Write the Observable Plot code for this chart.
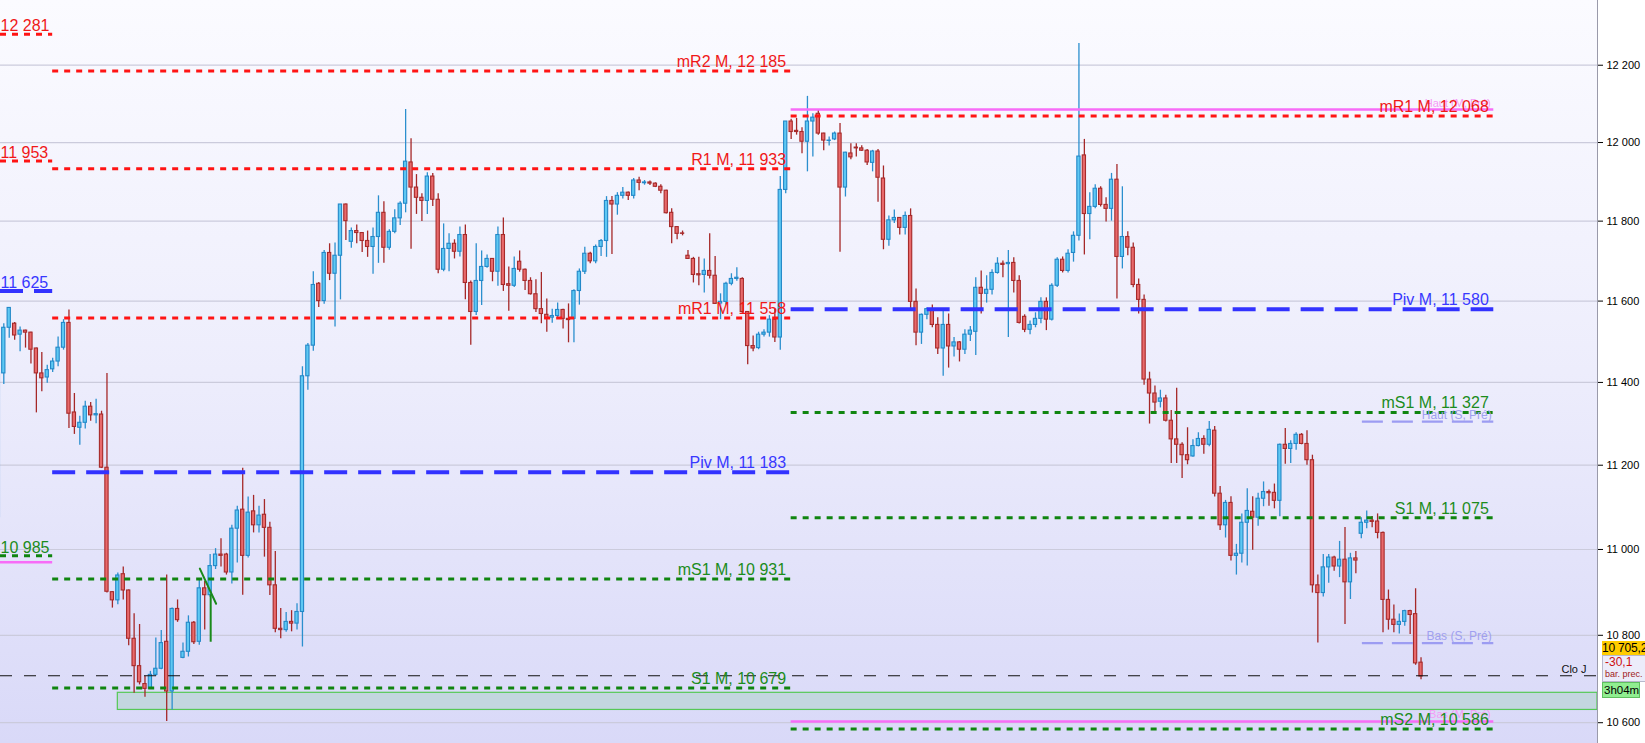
<!DOCTYPE html>
<html>
<head>
<meta charset="utf-8">
<script src="https://cdn.jsdelivr.net/npm/d3@7"></script>
<script src="https://cdn.jsdelivr.net/npm/@observablehq/plot@0.6"></script>
<style>
  body { margin: 0; background: #fff; font-family: "Liberation Sans", Arial, sans-serif; }
  #wrap { position: relative; width: 1645px; height: 743px; overflow: hidden; }
  #bg { position: absolute; left: 0; top: 0; width: 1597px; height: 743px;
        background: linear-gradient(to bottom, #fbfbff 0%, #ededfc 50%, #d9d9f8 100%); }
  #chart { position: absolute; left: 0; top: 0; }
  .box { position: absolute; left: 1602px; white-space: nowrap; overflow: hidden; box-sizing: border-box; font-size: 12px; }
  .last { top: 641px; width: 44px; height: 14px; line-height: 14px; background: #ffcc00; color: #000; padding-left: 0; letter-spacing: -0.2px; }
  .prev { top: 655px; width: 44px; height: 27px; background: #ececfa; border: 1px solid #b8b8cc; padding-left: 2px; }
  .chg { color: #cc1010; font-size: 12px; line-height: 13px; }
  .bp { color: #a02020; font-size: 9px; line-height: 11px; }
  .timer { top: 682px; width: 38px; height: 16px; line-height: 15px; background: #90ee90; border: 1px solid #5fbf5f; padding-left: 1px; color: #000; font-size: 11.5px; }
</style>
</head>
<body>
<div id="wrap">
  <div id="bg"></div>
  <div id="chart"></div>
  <div class="box last">10 705,2</div>
  <div class="box prev"><div class="chg">-30,1</div><div class="bp">bar. prec.</div></div>
  <div class="box timer">3h04m</div>
</div>
<script>
// bougies (OHLC), une valeur par barre, de gauche à droite
const opens = [
  11076,
  11422, 11534, 11544, 11517, 11527, 11522, 11483, 11422, 11412, 11432,
  11451, 11485, 11546, 11327, 11290, 11302, 11341, 11320, 11322, 11194,
  10900, 10881, 10942, 10904, 10792, 10729, 10688, 10677, 10709, 10723,
  10785, 10671, 10861, 10748, 10762, 10829, 10785, 10909, 10893, 10961,
  10988, 10988, 10946, 11049, 11094, 10985, 11090, 11057, 11082, 11051,
  10916, 10815, 10812, 10831, 10827, 10854, 11415, 11490, 11643, 11600,
  11720, 11668, 11713, 11842, 11748, 11775, 11770, 11750, 11735, 11760,
  11821, 11733, 11773, 11807, 11844, 11949, 11885, 11859, 11851, 11913,
  11854, 11678, 11730, 11743, 11723, 11765, 11645, 11573, 11650, 11685,
  11705, 11673, 11765, 11642, 11638, 11698, 11678, 11650, 11617, 11580,
  11566, 11559, 11563, 11578, 11556, 11556, 11625, 11673, 11718, 11699,
  11735, 11750, 11851, 11842, 11864, 11872, 11864, 11903, 11896, 11898,
  11895, 11887, 11877, 11821, 11785, 11769, 11713, 11705, 11667, 11665,
  11675, 11663, 11594, 11598, 11643, 11655, 11655, 11573, 11489, 11484,
  11517, 11522, 11554, 11510, 11879, 12054, 12030, 12027, 12002, 12054,
  12074, 12023, 12004, 12008, 12023, 11885, 11972, 11987, 11985, 11979,
  11948, 11977, 11908, 11753, 11802, 11808, 11783, 11813, 11598, 11522,
  11566, 11580, 11541, 11483, 11541, 11488, 11498, 11480, 11517, 11524,
  11633, 11618, 11628, 11670, 11693, 11692, 11695, 11650, 11561, 11529,
  11541, 11556, 11598, 11554, 11638, 11703, 11675, 11720, 11763, 11967,
  11818, 11836, 11882, 11841, 11831, 11905, 11710, 11760, 11733, 11640,
  11603, 11407, 11373, 11353, 11361, 11307, 11262, 11249, 11224, 11221,
  11246, 11263, 11249, 11283, 11132, 11057, 11110, 10985, 10990, 11063,
  11089, 11075, 11120, 11136, 11134, 11115, 11249, 11239, 11251, 11273,
  11251, 11212, 10916, 10898, 10958, 10981, 10960, 10976, 10923, 10979,
  11037, 11063, 11068, 11066, 11039, 10882, 10836, 10824, 10831, 10856,
  10849, 10737
];
const highs = [
  11423,
  11544, 11583, 11547, 11536, 11528, 11523, 11484, 11473, 11442, 11459,
  11511, 11554, 11578, 11373, 11318, 11354, 11351, 11359, 11330, 11422,
  10901, 10945, 10959, 10905, 10850, 10825, 10706, 10717, 10794, 10811,
  10940, 10863, 10882, 10782, 10845, 10832, 10932, 10925, 10988, 11002,
  11025, 10991, 11057, 11102, 11193, 11124, 11128, 11102, 11118, 11064,
  10995, 10862, 10853, 10857, 10873, 11438, 11495, 11673, 11646, 11726,
  11743, 11745, 11842, 11843, 11783, 11790, 11771, 11775, 11783, 11864,
  11849, 11778, 11829, 11849, 12085, 12010, 11918, 11869, 11923, 11921,
  11869, 11793, 11768, 11753, 11785, 11790, 11650, 11743, 11725, 11715,
  11706, 11785, 11808, 11685, 11710, 11725, 11680, 11658, 11653, 11671,
  11605, 11580, 11595, 11580, 11593, 11628, 11680, 11734, 11722, 11740,
  11754, 11862, 11862, 11872, 11885, 11874, 11908, 11911, 11903, 11902,
  11897, 11892, 11878, 11831, 11786, 11775, 11726, 11709, 11709, 11705,
  11768, 11711, 11618, 11647, 11668, 11683, 11658, 11574, 11514, 11523,
  11529, 11564, 11580, 11913, 12054, 12060, 12062, 12038, 12119, 12074,
  12083, 12024, 12014, 12027, 12049, 11975, 11997, 11997, 11992, 11982,
  11980, 11982, 11940, 11813, 11828, 11809, 11823, 11831, 11630, 11568,
  11583, 11590, 11559, 11578, 11568, 11510, 11500, 11529, 11537, 11658,
  11675, 11663, 11678, 11708, 11700, 11726, 11708, 11663, 11566, 11551,
  11571, 11608, 11608, 11643, 11708, 11710, 11728, 11773, 12257, 12008,
  11872, 11892, 11887, 11859, 11921, 11944, 11887, 11773, 11745, 11655,
  11615, 11425, 11391, 11381, 11369, 11332, 11386, 11254, 11290, 11261,
  11278, 11271, 11305, 11293, 11149, 11116, 11125, 11012, 11084, 11144,
  11125, 11133, 11160, 11141, 11155, 11251, 11288, 11259, 11278, 11276,
  11283, 11224, 10940, 10988, 10988, 10984, 11019, 11052, 10991, 10995,
  11075, 11091, 11078, 11084, 11041, 10905, 10870, 10849, 10858, 10858,
  10908, 10748
];
const lows = [
  11076,
  11395, 11508, 11503, 11475, 11484, 11445, 11326, 11377, 11398, 11424,
  11438, 11479, 11288, 11274, 11248, 11287, 11306, 11300, 11192, 10898,
  10863, 10871, 10882, 10776, 10667, 10686, 10658, 10676, 10706, 10721,
  10603, 10629, 10830, 10746, 10750, 10779, 10777, 10812, 10888, 10953,
  10959, 10940, 10919, 10968, 10893, 10980, 11039, 11039, 10982, 10892,
  10806, 10792, 10807, 10808, 10812, 10773, 11381, 11476, 11584, 11592,
  11651, 11536, 11603, 11751, 11732, 11743, 11721, 11709, 11667, 11694,
  11694, 11727, 11768, 11789, 11821, 11729, 11817, 11799, 11817, 11837,
  11668, 11673, 11673, 11705, 11710, 11603, 11491, 11564, 11589, 11682,
  11648, 11637, 11624, 11575, 11634, 11672, 11626, 11615, 11572, 11544,
  11523, 11545, 11556, 11531, 11497, 11497, 11590, 11666, 11693, 11693,
  11711, 11709, 11716, 11815, 11856, 11852, 11856, 11877, 11891, 11890,
  11885, 11869, 11818, 11743, 11753, 11763, 11704, 11645, 11638, 11620,
  11655, 11592, 11554, 11590, 11638, 11649, 11570, 11443, 11475, 11480,
  11511, 11511, 11498, 11479, 11869, 12008, 12019, 11971, 11925, 11963,
  12019, 11979, 11991, 12005, 11722, 11861, 11956, 11963, 11977, 11941,
  11925, 11848, 11728, 11737, 11794, 11765, 11765, 11578, 11490, 11493,
  11554, 11534, 11468, 11415, 11435, 11462, 11450, 11468, 11500, 11466,
  11568, 11595, 11615, 11667, 11658, 11510, 11620, 11543, 11522, 11517,
  11534, 11544, 11527, 11551, 11634, 11670, 11670, 11697, 11750, 11715,
  11753, 11831, 11836, 11798, 11800, 11605, 11680, 11713, 11633, 11568,
  11393, 11299, 11322, 11338, 11304, 11204, 11204, 11168, 11201, 11219,
  11244, 11226, 11244, 11124, 11045, 11027, 10973, 10940, 10968, 10961,
  10998, 11055, 11101, 11102, 11096, 11077, 11202, 11204, 11236, 11249,
  11200, 10898, 10782, 10889, 10921, 10949, 10934, 10825, 10883, 10943,
  11025, 11049, 11051, 11025, 10806, 10812, 10806, 10803, 10821, 10802,
  10731, 10698
];
const closes = [
  11423,
  11534, 11583, 11515, 11527, 11522, 11480, 11422, 11410, 11430, 11451,
  11485, 11546, 11324, 11292, 11302, 11341, 11320, 11323, 11194, 10901,
  10881, 10939, 10904, 10792, 10729, 10692, 10677, 10709, 10723, 10782,
  10671, 10861, 10835, 10762, 10829, 10784, 10909, 10893, 10961, 10988,
  10985, 10946, 11049, 11092, 10985, 11087, 11057, 11080, 11051, 10916,
  10815, 10812, 10831, 10827, 10854, 11415, 11490, 11640, 11600, 11720,
  11668, 11713, 11842, 11800, 11775, 11770, 11750, 11735, 11760, 11821,
  11733, 11773, 11807, 11844, 11951, 11885, 11859, 11851, 11913, 11854,
  11678, 11730, 11743, 11723, 11765, 11645, 11573, 11650, 11685, 11705,
  11673, 11765, 11640, 11638, 11680, 11678, 11650, 11617, 11580, 11568,
  11556, 11563, 11578, 11556, 11553, 11625, 11673, 11718, 11699, 11735,
  11750, 11851, 11842, 11864, 11872, 11864, 11903, 11897, 11898, 11895,
  11887, 11877, 11820, 11785, 11768, 11768, 11705, 11665, 11664, 11675,
  11663, 11593, 11598, 11643, 11655, 11658, 11573, 11489, 11483, 11517,
  11522, 11554, 11510, 11879, 12054, 12027, 12027, 12002, 12054, 12064,
  12023, 12005, 12005, 12023, 11885, 11974, 11962, 11985, 11979, 11949,
  11977, 11910, 11753, 11802, 11808, 11783, 11813, 11598, 11522, 11566,
  11580, 11541, 11483, 11541, 11488, 11498, 11480, 11517, 11527, 11633,
  11618, 11628, 11670, 11693, 11690, 11695, 11650, 11546, 11529, 11541,
  11556, 11598, 11554, 11638, 11703, 11675, 11718, 11763, 11964, 11818,
  11836, 11882, 11841, 11831, 11905, 11710, 11760, 11733, 11640, 11603,
  11407, 11373, 11351, 11361, 11307, 11262, 11249, 11224, 11212, 11246,
  11263, 11249, 11285, 11132, 11057, 11110, 10985, 10990, 11063, 11091,
  11075, 11120, 11136, 11133, 11115, 11249, 11239, 11251, 11273, 11251,
  11212, 10916, 10898, 10958, 10981, 10960, 10976, 10923, 10979, 10974,
  11063, 11068, 11065, 11039, 10882, 10836, 10824, 10831, 10856, 10847,
  10735.3, 10705.2
];

// axe des prix (échelle log) et fenêtre en nombre de barres
const yTicks = [10600, 10800, 11000, 11200, 11400, 11600, 11800, 12000, 12200];
const yDomain = [10553, 12370];
const xDomain = [0.392, 294.5];

// bornes temporelles (index de barre)
const monthStarts = [10, 146];
const projectionEnd = 275.4;
const weekStart = 251.2;

// pivots mensuels
const olderValues = [12281, 11953, 11625, 10985];
const olderKinds = ["r", "r", "p", "s"];
const prevNames = ["mR2 M", "R1 M", "mR1 M", "Piv M", "mS1 M", "S1 M"];
const prevValues = [12185, 11933, 11558, 11183, 10931, 10679];
const curNames = ["mR1 M", "Piv M", "mS1 M", "S1 M", "mS2 M"];
const curValues = [12068, 11580, 11327, 11075, 10586];

// plus hauts / plus bas précédents
const olderPink = 10970;
const monthHighLow = [12085, 10603];
const monthHighLowNames = ["Haut (M, Pré)", "Bas (M, Pré)"];
const weekHighLow = [11305, 10782];
const weekHighLowNames = ["Haut (S, Pré)", "Bas (S, Pré)"];

// zone de support, clôture du jour, tracé manuel
const zoneStart = 22;
const zoneRange = [10629, 10668];
const cloJ = 10707;
const fanX = [37.1, 40.1];
const fanY = [10955, 10873];
const stemX = 39.1;
const stemY = [10894, 10784];

const fmt = v => d3.format(",")(v).replace(/,/g, " ");
const kindOf = name => name.includes("Piv") ? "p" : /R\d/.test(name) ? "r" : "s";

const bars = opens.map((o, j) => ({
  j, open: o, high: highs[j], low: lows[j], close: closes[j], up: closes[j] >= o
}));

const levels = [
  ...olderValues.map((value, k) => ({value, kind: olderKinds[k], x1: xDomain[0], x2: monthStarts[0]})),
  ...prevNames.map((name, k) => ({name, value: prevValues[k], kind: kindOf(name), x1: monthStarts[0], x2: monthStarts[1]})),
  ...curNames.map((name, k) => ({name, value: curValues[k], kind: kindOf(name), x1: monthStarts[1], x2: projectionEnd}))
];

const lineStyle = {
  r: {stroke: "#ff1414", strokeWidth: 3, strokeDasharray: "6,6"},
  p: {stroke: "#3232ff", strokeWidth: 4, strokeDasharray: "23,11"},
  s: {stroke: "#108510", strokeWidth: 3, strokeDasharray: "6,6"}
};
const textColor = {r: "#f01818", p: "#3838ff", s: "#1c8c1c"};

const pink = [
  {value: olderPink, x1: xDomain[0], x2: monthStarts[0]},
  ...monthHighLow.map((value, k) => ({value, name: monthHighLowNames[k], x1: monthStarts[1], x2: projectionEnd}))
];
const weekly = weekHighLow.map((value, k) => ({value, name: weekHighLowNames[k]}));

const chart = Plot.plot({
  width: 1645,
  height: 743,
  marginLeft: 0,
  marginRight: 48,
  marginTop: 0,
  marginBottom: 0,
  style: {background: "transparent", fontFamily: "'Liberation Sans', Arial, sans-serif", fontSize: "11px", color: "#000"},
  x: {type: "linear", domain: xDomain, axis: null},
  y: {type: "log", domain: yDomain, axis: "right", ticks: yTicks, tickFormat: fmt, tickSize: 5, tickPadding: 4, label: null},
  color: {type: "identity"},
  marks: [
    Plot.ruleY(yTicks, {stroke: "#cbcbdc", strokeWidth: 1.2}),
    Plot.rect([zoneRange], {
      x1: zoneStart, x2: xDomain[1], y1: d => d[0], y2: d => d[1],
      fill: "#c3d6df", stroke: "#55c855", strokeWidth: 1.2
    }),
    Plot.ruleX(bars, {
      x: "j", y1: "low", y2: "high",
      stroke: d => d.up ? "#2b8fce" : "#a52828", strokeWidth: 1.3
    }),
    Plot.rect(bars, {
      x1: d => d.j - 0.3, x2: d => d.j + 0.3, y1: "open", y2: "close",
      fill: d => d.up ? "#5ec8f3" : "#e8696b",
      stroke: d => d.up ? "#2388c8" : "#a62a2a", strokeWidth: 1.1
    }),
    Plot.ruleY(pink, {y: "value", x1: "x1", x2: "x2", stroke: "#f76cf7", strokeWidth: 2.5}),
    ...["r", "p", "s"].map(k =>
      Plot.ruleY(levels.filter(d => d.kind === k), {y: "value", x1: "x1", x2: "x2", ...lineStyle[k]})
    ),
    Plot.ruleY(weekly, {y: "value", x1: weekStart, x2: projectionEnd, stroke: "#9c9cf2", strokeWidth: 2.2, strokeDasharray: "21,9"}),
    Plot.ruleY([cloJ], {stroke: "#111", strokeWidth: 1.2, strokeDasharray: "12,12"}),
    Plot.line(fanX.map((x, k) => [x, fanY[k]]), {x: d => d[0], y: d => d[1], stroke: "#1a8a1a", strokeWidth: 2}),
    Plot.ruleX([stemX], {y1: stemY[0], y2: stemY[1], stroke: "#1a8a1a", strokeWidth: 2}),
    Plot.ruleX([xDomain[1]], {stroke: "#9a9aaa", strokeWidth: 1}),
    // libellés
    Plot.text(pink.filter(d => d.name), {
      x: "x2", y: "value", text: "name", textAnchor: "end", lineAnchor: "bottom",
      dx: -3, dy: -3, fill: "#f59af5", fontSize: 11
    }),
    Plot.text(weekly, {
      x: projectionEnd, y: "value", text: "name", textAnchor: "end", lineAnchor: "bottom",
      dx: -2, dy: -3, fill: "#a0a0f0", fontSize: 12
    }),
    Plot.text(levels.filter(d => d.name), {
      x: "x2", y: "value", text: d => `${d.name}, ${fmt(d.value)}`,
      textAnchor: "end", lineAnchor: "bottom", dx: -5, dy: -4,
      fill: d => textColor[d.kind], fontSize: 16
    }),
    Plot.text(levels.filter(d => !d.name), {
      frameAnchor: "left", y: "value", text: d => fmt(d.value),
      textAnchor: "start", lineAnchor: "bottom", dx: 0, dy: -3,
      fill: d => textColor[d.kind], fontSize: 16
    }),
    Plot.text([cloJ], {
      frameAnchor: "right", y: d => d, text: () => "Clo J",
      textAnchor: "end", lineAnchor: "bottom", dx: -11, dy: -3, fill: "#111", fontSize: 11
    })
  ]
});

document.getElementById("chart").appendChild(chart);
</script>
</body>
</html>
